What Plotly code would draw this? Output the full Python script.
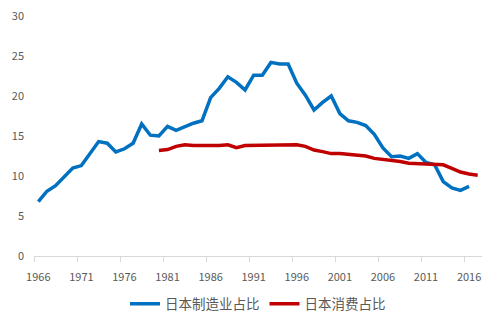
import plotly.graph_objects as go

years_mfg = list(range(1966, 2017))
mfg_share = [6.8, 8.1, 8.8, 9.9, 11.0, 11.3, 12.75, 14.3, 14.1, 13.0,
             13.4, 14.1, 16.5, 15.1, 15.0, 16.2, 15.7, 16.2, 16.6, 16.9,
             19.8, 20.95, 22.4, 21.7, 20.75, 22.6, 22.6, 24.2, 24.0, 24.0,
             21.6, 20.1, 18.25, 19.2, 20.0, 17.8, 16.9, 16.7, 16.3, 15.2,
             13.5, 12.4, 12.5, 12.2, 12.8, 11.7, 11.4, 9.3, 8.5, 8.2, 8.7]

years_cons = list(range(1980, 2018))
cons_share = [13.2, 13.3, 13.7, 13.9, 13.8, 13.8, 13.7, 13.8, 13.9, 13.55,
              13.8, 13.8, 13.9, 13.8, 13.8, 13.9, 13.9, 13.7, 13.25, 13.05,
              12.8, 12.8, 12.7, 12.7, 12.5, 12.2, 12.1, 11.9, 11.8, 11.6,
              11.55, 11.4, 11.4, 11.4, 10.95, 10.5, 10.25, 10.1]

x_labels = [1966, 1971, 1976, 1981, 1986, 1991, 1996, 2001, 2006, 2011, 2016]
y_ticks = [0, 5, 10, 15, 20, 25, 30]

font_family = "Noto Sans CJK SC, Noto Sans, sans-serif"

fig = go.Figure()
fig.add_trace(go.Scatter(x=years_mfg, y=mfg_share, mode="lines", name="日本制造业占比",
                         line=dict(color="#0070C0", width=3.5)))
fig.add_trace(go.Scatter(x=years_cons, y=cons_share, mode="lines", name="日本消费占比",
                         line=dict(color="#C00000", width=3.5)))

fig.update_layout(
    width=499, height=326,
    margin=dict(l=34, r=17, t=16, b=70, autoexpand=False),
    paper_bgcolor="white", plot_bgcolor="white",
    font=dict(family=font_family, size=11, color="#595959"),
    showlegend=True,
    legend=dict(orientation="h", x=0.5, xanchor="center", y=-0.2, yanchor="middle",
                font=dict(size=13.5, color="#595959"), itemwidth=30,
                traceorder="normal"),
)
fig.update_xaxes(
    range=[1965.5, 2017.5],
    tickmode="array", tickvals=x_labels, ticktext=[str(v) for v in x_labels],
    ticks="", showgrid=False, zeroline=False,
    showline=True, linecolor="#d9d9d9", linewidth=1,
    ticklabelstandoff=11,
    minor=dict(tickvals=[v - 0.5 for v in x_labels], ticks="outside", ticklen=5,
               tickcolor="#d9d9d9", showgrid=False),
)
fig.update_yaxes(
    range=[0, 30], tickmode="array", tickvals=y_ticks,
    ticks="", showgrid=False, zeroline=False, showline=False,
    ticklabelstandoff=9,
)

fig.write_html("out.html")
